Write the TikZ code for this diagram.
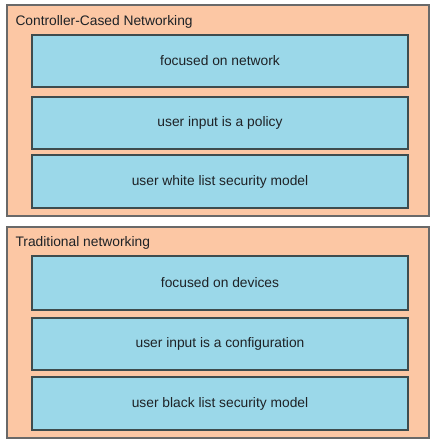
\documentclass[tikz,border=0pt]{standalone}
\usepackage{fontspec}
\setmainfont{Liberation Sans}
\definecolor{peach}{RGB}{252,199,164}
\definecolor{skyfill}{RGB}{155,216,233}
\definecolor{framegray}{RGB}{105,105,105}
\definecolor{boxline}{RGB}{62,76,78}
\definecolor{labeltext}{RGB}{30,34,38}
\tikzset{every picture/.style={line width=0.75pt}}
\tikzset{
  groupbox/.style={draw=framegray, fill=peach, line width=1.1pt, inner sep=0pt, minimum width=316.5pt, minimum height=158.25pt},
  itembox/.style={draw=boxline, fill=skyfill, line width=1.1pt, inner sep=0pt, minimum width=282pt, text=labeltext, font=\fontsize{10.35pt}{12pt}\selectfont},
  grouptitle/.style={anchor=base west, inner sep=0pt, text=labeltext, font=\fontsize{10.35pt}{12pt}\selectfont}
}
\begin{document}
\begin{tikzpicture}[x=0.75pt,y=0.75pt,yscale=-1,xscale=1]
\useasboundingbox (0,0) rectangle (435,444);

%Shape: Rectangle [controller group]
\node [groupbox] (ctrl) at (218,110.5) {};
%Shape: Rectangle [traditional group]
\node [groupbox] (trad) at (218,332.5) {};

% Text Node
\node [grouptitle] (ctrltitle) at (15,25) {Controller-Cased Networking};
% Text Node
\node [grouptitle] (tradtitle) at (15,246) {Traditional networking};

%Shape: Rectangle [controller items]
\node [itembox, minimum height=39pt] (ctrlfocus) at (220,61) {focused on network};
\node [itembox, minimum height=39pt] (ctrlinput) at (220,123) {user input is a policy};
\node [itembox, minimum height=39.75pt] (ctrlsec) at (220,181.5) {user white list security model};

%Shape: Rectangle [traditional items]
\node [itembox, minimum height=40.5pt] (tradfocus) at (220,283) {focused on devices};
\node [itembox, minimum height=39pt] (tradinput) at (220,344) {user input is a configuration};
\node [itembox, minimum height=39.75pt] (tradsec) at (220,403.5) {user black list security model};

\end{tikzpicture}
\end{document}
